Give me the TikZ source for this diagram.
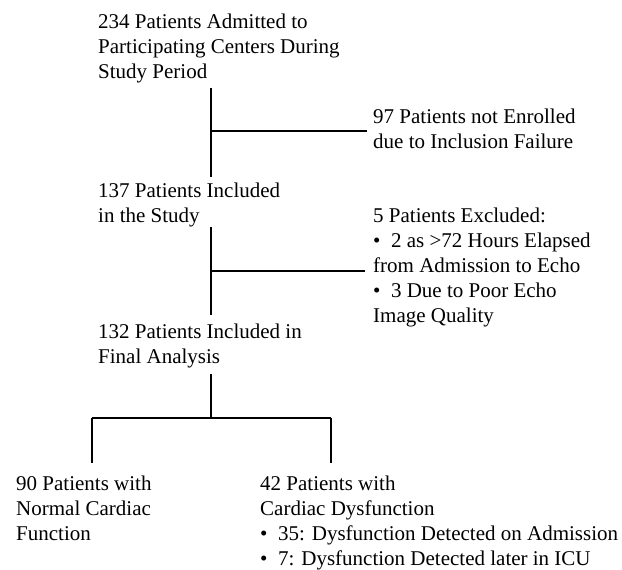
\documentclass[tikz,border=0pt]{standalone}
\usepackage{fontspec}
\setmainfont{Liberation Serif}
\usepackage{tikz}
\usetikzlibrary{calc}
\newcommand{\flowfont}{\fontsize{21}{25}\selectfont}
\newcommand{\bul}{\textbullet\ \ }

\begin{document}
\begin{tikzpicture}[
  x=1pt, y=-1pt,
  every node/.style={font=\flowfont},
  stage/.style={anchor=north west, align=left, inner sep=0pt},
  conn/.style={line width=1.5pt},
]
  \useasboundingbox (0,0) rectangle (622,570);

  % Main stages down the left column
  \node[stage] (admit) at (98,13.5)  {234 Patients Admitted to\\Participating Centers During\\Study Period};
  \node[stage] (incl)  at (98,182.5) {137 Patients Included\\in the Study};
  \node[stage] (final) at (98,323.5) {132 Patients Included in\\Final Analysis};

  % Patients dropped on the right
  \node[stage] (notenr) at (373,108.5) {97 Patients not Enrolled\\due to Inclusion Failure};
  \node[stage] (excl)   at (373,207.5) {5 Patients Excluded:\\\bul 2 as >72 Hours Elapsed\\from Admission to Echo\\\bul 3 Due to Poor Echo\\Image Quality};

  % Final groups
  \node[stage] (normal) at (16,475.5)  {90 Patients with\\Normal Cardiac\\Function};
  \node[stage] (dysf)   at (260,475.5) {42 Patients with\\Cardiac Dysfunction\\\bul 35: Dysfunction Detected on Admission\\\bul 7: Dysfunction Detected later in ICU};

  % Junctions
  \coordinate (j1) at (211,131);
  \coordinate (j2) at (211,271);
  \coordinate (j3) at (211,418);
  \coordinate (jl) at (92,418);
  \coordinate (jr) at (331,418);

  % Stem
  \draw[conn] ($(admit.south -| j1)+(0,4.5)$) -- ($(incl.north -| j1)+(0,-5.5)$);
  \draw[conn] ($(incl.south -| j2)+(0,0)$) -- ($(final.north -| j2)+(0,-8.5)$);
  \draw[conn] ($(final.south -| j3)+(0,5.5)$) -- (j3);

  % Side branches
  \draw[conn] (j1) -- ($(j1 -| notenr.west)+(-6,0)$);
  \draw[conn] (j2) -- ($(j2 -| excl.west)+(-8,0)$);

  % Split into two groups
  \draw[conn] (jl) -- (jr);
  \draw[conn] (jl) -- ($(jl |- normal.north)+(0,-13)$);
  \draw[conn] (jr) -- ($(jr |- dysf.north)+(0,-13)$);
\end{tikzpicture}
\end{document}
